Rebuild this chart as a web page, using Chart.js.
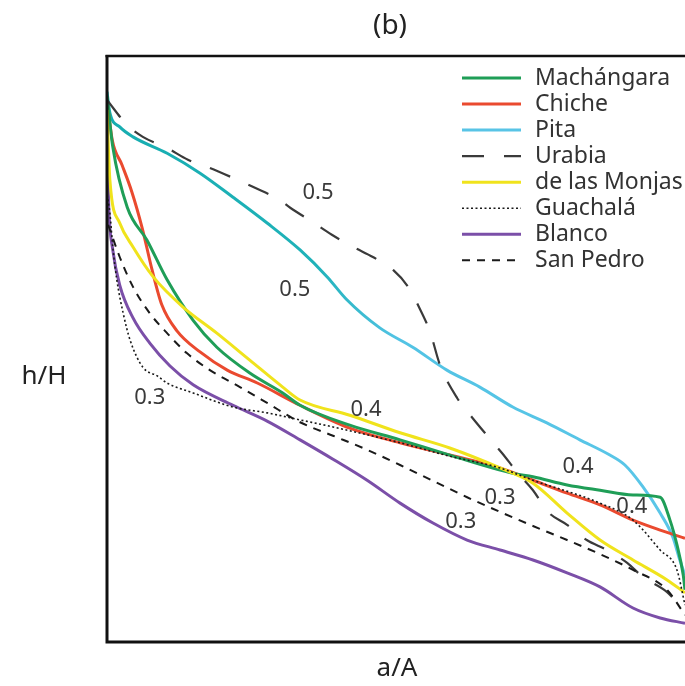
<!DOCTYPE html>
<html>
<head>
<meta charset="utf-8">
<script src="https://cdn.jsdelivr.net/npm/chart.js@4/dist/chart.umd.min.js"></script>
<style>
  html, body { margin: 0; padding: 0; background: #ffffff; }
  #wrap { width: 685px; height: 686px; }
</style>
</head>
<body>
<div id="wrap"><canvas id="c" width="685" height="686"></canvas></div>
<script>
// ---- data (x = a/A, y = h/H) ----
const seriesNames = ["Machángara", "Chiche", "Pita", "Urabia", "de las Monjas", "Guachalá", "Blanco", "San Pedro"];

const machangaraX = [0, .010, .035, .069, .104, .149, .190, .247, .304, .334, .420, .507, .593, .702, .737, .796, .853, .910, .957, .974, .986, .997, 1.0];
const machangaraY = [.932, .845, .742, .686, .618, .549, .503, .459, .425, .404, .370, .345, .319, .288, .282, .268, .259, .251, .247, .208, .166, .114, .089];

const chicheX = [0, .009, .026, .043, .061, .078, .095, .121, .161, .208, .260, .334, .420, .507, .593, .680, .737, .796, .853, .910, .957, 1.0];
const chicheY = [.925, .857, .814, .768, .706, .635, .575, .531, .495, .464, .442, .404, .365, .340, .319, .297, .276, .254, .234, .208, .191, .177];

const pitaX = [0, .005, .022, .045, .104, .161, .218, .277, .334, .381, .415, .472, .529, .588, .645, .702, .761, .818, .870, .896, .927, .957, .979, .991, 1.0];
const pitaY = [.939, .903, .879, .862, .834, .800, .759, .715, .669, .623, .584, .536, .503, .464, .435, .401, .374, .345, .319, .302, .265, .220, .179, .140, .114];

const urabiaX = [0, .035, .062, .104, .140, .178, .218, .256, .299, .317, .355, .389, .426, .460, .495, .521, .542, .559, .576, .606, .631, .657, .683, .711, .737, .763, .796, .830, .865, .900, .927, .969, 1.0];
const urabiaY = [.925, .882, .862, .843, .823, .809, .792, .775, .754, .741, .717, .695, .674, .657, .635, .606, .567, .529, .473, .416, .384, .353, .323, .288, .259, .222, .200, .174, .157, .135, .111, .085, .051];

const monjasX = [0, .005, .022, .045, .080, .131, .190, .247, .304, .334, .420, .507, .593, .680, .737, .796, .853, .910, .969, 1.0];
const monjasY = [.908, .788, .715, .674, .623, .572, .527, .481, .435, .413, .387, .357, .331, .297, .271, .220, .174, .140, .106, .084];

const guachalaX = [0, .005, .010, .017, .028, .040, .062, .087, .104, .149, .218, .277, .334, .391, .507, .593, .680, .737, .853, .910, .957, .986, 1.0];
const guachalaY = [.763, .732, .674, .618, .561, .515, .469, .454, .442, .425, .401, .391, .379, .367, .340, .317, .297, .276, .237, .208, .157, .123, .063];

const blancoX = [0, .003, .010, .022, .045, .074, .109, .149, .218, .277, .334, .391, .450, .507, .564, .623, .680, .737, .796, .853, .910, .957, 1.0];
const blancoY = [.857, .742, .669, .609, .553, .510, .471, .439, .404, .377, .345, .312, .276, .237, .203, .174, .157, .140, .118, .094, .058, .041, .032];

const sanPedroX = [.002, .022, .045, .074, .104, .138, .178, .230, .277, .334, .391, .450, .507, .564, .623, .680, .737, .796, .853, .910, .969, 1.0];
const sanPedroY = [.712, .657, .606, .561, .527, .493, .464, .435, .408, .375, .352, .328, .302, .275, .247, .222, .198, .174, .150, .123, .089, .046];

// curve annotations (text, a/A, h/H)
const noteText = ["0.5", "0.5", "0.3", "0.4", "0.4", "0.3", "0.3", "0.4"];
const noteX    = [.365, .325, .074, .448, .815, .680, .612, .908];
const noteY    = [.766, .601, .416, .396, .299, .247, .205, .230];

const titleText = "(b)";
const xTitle = "a/A";
const yTitle = "h/H";

// ---- build ----
function pts(xs, ys) { return xs.map((x, i) => ({ x: x, y: ys[i] })); }

const styles = [
  { color: "#1f9e57", width: 3, dash: [] },
  { color: "#ea4a2f", width: 3, dash: [] },
  { color: "#58c4e6", width: 3, dash: [] },
  { color: "#3a3a3a", width: 2.2, dash: [22, 20] },
  { color: "#f0e31c", width: 3, dash: [] },
  { color: "#1a1a1a", width: 1.6, dash: [2, 2.5] },
  { color: "#7b4fa8", width: 3, dash: [] },
  { color: "#1a1a1a", width: 2, dash: [8, 7] }
];
const seriesData = [
  pts(machangaraX, machangaraY), pts(chicheX, chicheY), pts(pitaX, pitaY), pts(urabiaX, urabiaY),
  pts(monjasX, monjasY), pts(guachalaX, guachalaY), pts(blancoX, blancoY), pts(sanPedroX, sanPedroY)
];
const drawOrder = [6, 2, 1, 0, 4, 3, 7, 5];

function pitaStroke(context) {
  const chart = context.chart;
  const area = chart.chartArea;
  if (!area) return styles[2].color;
  const g = chart.ctx.createLinearGradient(area.left, 0, area.right, 0);
  g.addColorStop(0, "#17adb0");
  g.addColorStop(0.36, "#1fb2b9");
  g.addColorStop(0.5, "#52c3e4");
  g.addColorStop(1, "#5bc6e8");
  return g;
}

const datasets = seriesNames.map((name, i) => ({
  label: name,
  data: seriesData[i],
  borderColor: i === 2 ? pitaStroke : styles[i].color,
  borderWidth: styles[i].width,
  borderDash: styles[i].dash,
  pointRadius: 0,
  fill: false,
  cubicInterpolationMode: "monotone",
  order: 8 - drawOrder.indexOf(i)
}));

const FONT = "'Noto Sans', 'Open Sans', sans-serif";

const decorPlugin = {
  id: "decor",
  afterDatasetsDraw(chart) {
    const ctx = chart.ctx;
    const a = chart.chartArea;
    const xs = chart.scales.x, ys = chart.scales.y;
    ctx.save();
    // frame
    ctx.strokeStyle = "#111";
    ctx.setLineDash([]);
    ctx.lineWidth = 3;
    ctx.beginPath();
    ctx.moveTo(a.left, a.top - 1);
    ctx.lineTo(a.left, a.bottom);
    ctx.lineTo(a.right + 5, a.bottom);
    ctx.stroke();
    ctx.lineWidth = 2.5;
    ctx.beginPath();
    ctx.moveTo(a.left - 1.5, a.top);
    ctx.lineTo(a.right + 5, a.top);
    ctx.stroke();

    // curve annotations
    ctx.fillStyle = "#3a3a3a";
    ctx.font = "22px " + FONT;
    ctx.textAlign = "center";
    ctx.textBaseline = "middle";
    noteText.forEach((t, i) => {
      ctx.fillText(t, xs.getPixelForValue(noteX[i]), ys.getPixelForValue(noteY[i]));
    });

    // legend
    const lx0 = 462, lx1 = 521, tx = 535, ly0 = 78, step = 26.05;
    ctx.textAlign = "left";
    ctx.font = "23px " + FONT;
    seriesNames.forEach((n, i) => {
      const y = ly0 + i * step;
      const s = styles[i];
      ctx.strokeStyle = s.color;
      ctx.lineWidth = s.width;
      ctx.setLineDash(s.dash);
      ctx.beginPath();
      ctx.moveTo(lx0, y);
      ctx.lineTo(lx1, y);
      ctx.stroke();
      ctx.setLineDash([]);
      ctx.fillStyle = "#333";
      ctx.fillText(n, tx, y);
    });

    // titles
    ctx.fillStyle = "#222";
    ctx.textAlign = "center";
    ctx.font = "28px " + FONT;
    ctx.fillText(titleText, 390, 26);
    ctx.font = "26px " + FONT;
    ctx.fillText(yTitle, 44, 377);
    ctx.fillText(xTitle, 397, 669);
    ctx.restore();
  }
};

new Chart(document.getElementById("c"), {
  type: "line",
  data: { datasets: datasets },
  options: {
    responsive: false,
    animation: false,
    layout: { padding: { left: 107, top: 56, right: 0, bottom: 44 } },
    plugins: { legend: { display: false }, tooltip: { enabled: false }, title: { display: false } },
    scales: {
      x: { type: "linear", min: 0, max: 1, display: false },
      y: { type: "linear", min: 0, max: 1, display: false }
    }
  },
  plugins: [decorPlugin]
});
</script>
</body>
</html>
